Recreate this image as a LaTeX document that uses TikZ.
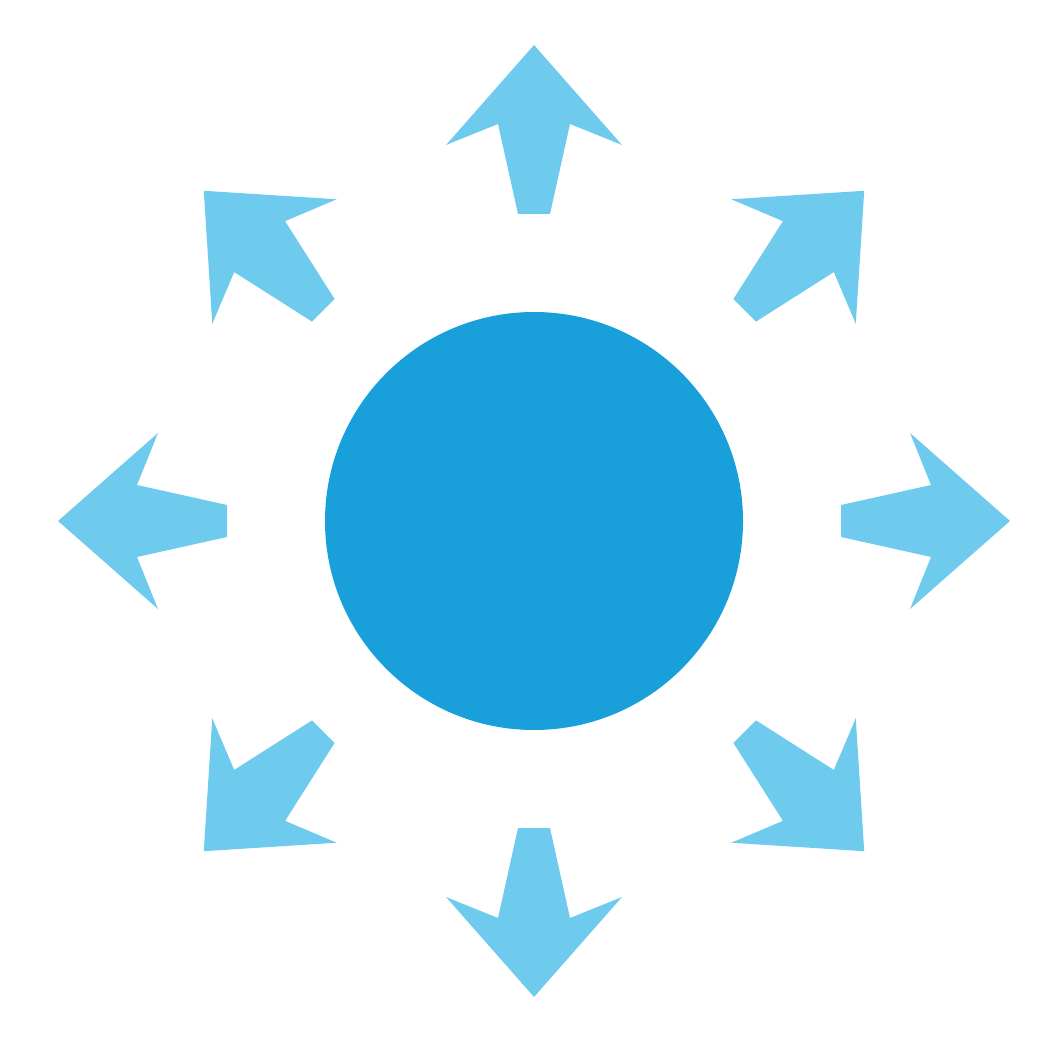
\documentclass[tikz,border=0pt]{standalone}
\usepackage{xcolor}
\usepackage{tikz}
\usetikzlibrary{calc}

\definecolor{sunblue}{HTML}{19A0DB}
\definecolor{rayblue}{HTML}{6FCBEE}

\begin{document}
\begin{tikzpicture}[scale=1]
    \tikzstyle{disc}=[circle,fill=sunblue,draw=none,inner sep=0pt,minimum size=4.18cm]
    \tikzstyle{ray}=[fill=rayblue,draw=none]
    \useasboundingbox (0,0) rectangle (10.43,10.42);

    % The centre disc
    \node[style=disc] (sun) at (5.34,5.21) {};

    % Eight arrows pointing away from the disc
    % (the diagonal ones sit a little closer)
    \foreach \ang/\off in {0/0, 45/-0.09, 90/0, 135/-0.09, 180/0, 225/-0.09, 270/0, 315/-0.09}
        \fill[style=ray, shift={(sun.center)}, rotate=\ang, xshift=\off cm]
            (4.76,0) -- (3.76,0.88) -- (3.97,0.36) -- (3.07,0.16)
            -- (3.07,-0.16) -- (3.97,-0.36) -- (3.76,-0.88) -- cycle;

\end{tikzpicture}
\end{document}
